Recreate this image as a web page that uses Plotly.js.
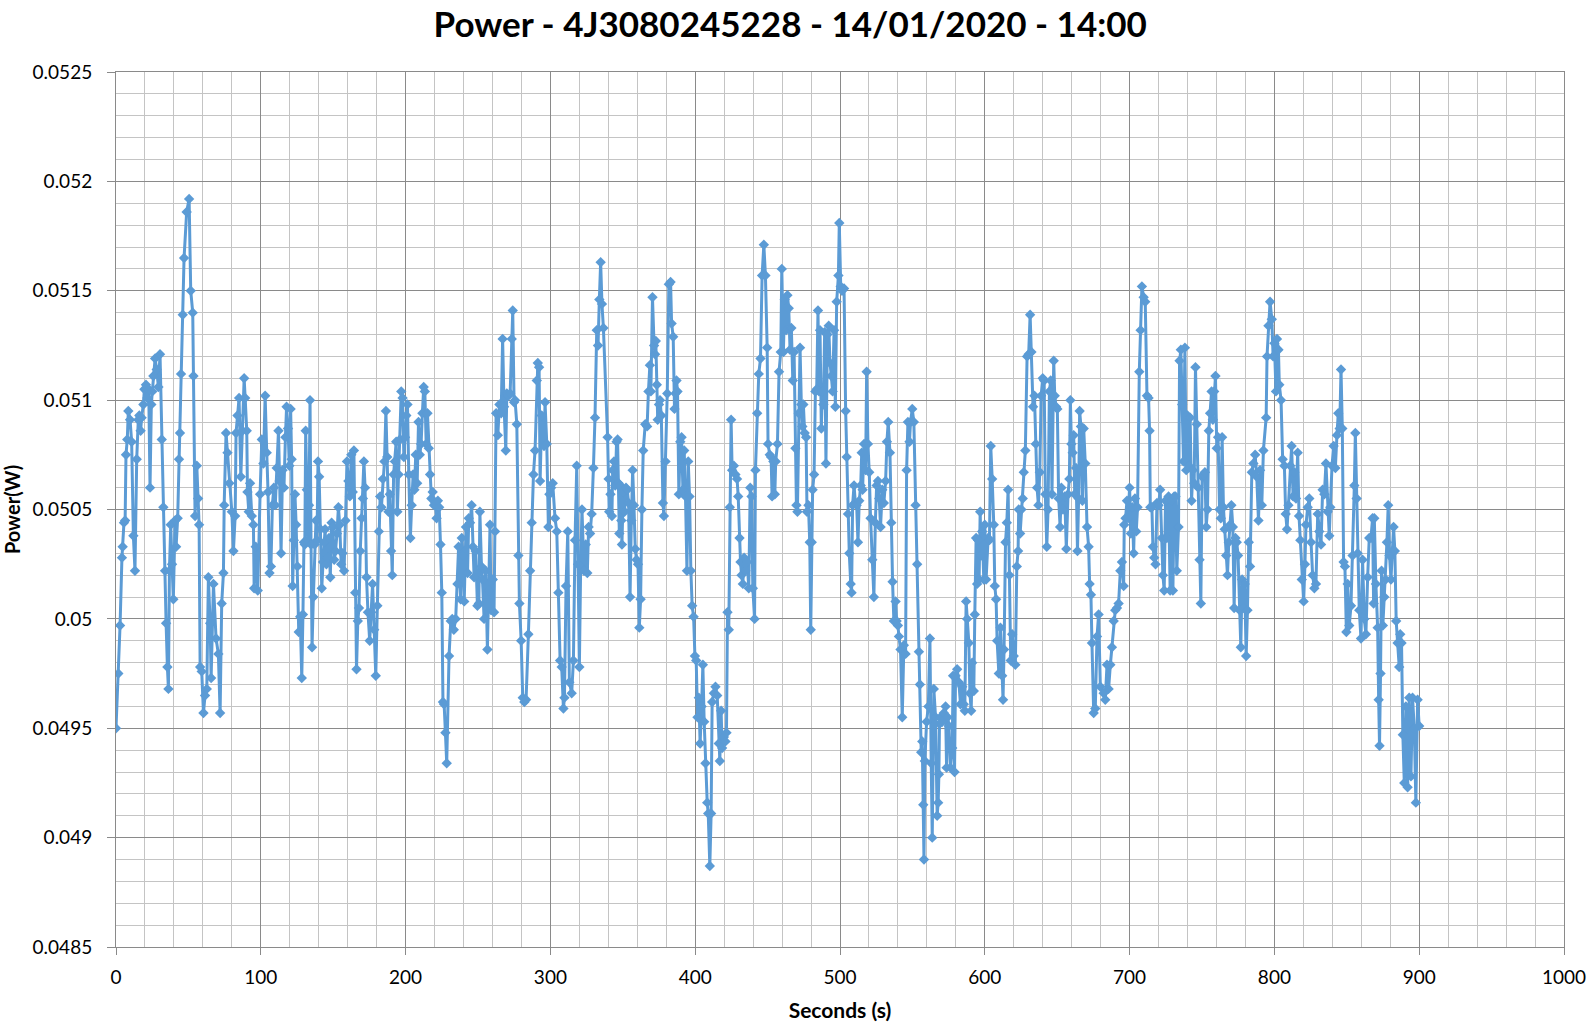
<!DOCTYPE html>
<html>
<head>
<meta charset="utf-8">
<script src="https://cdn.plot.ly/plotly-3.0.1.min.js"></script>
<style>html,body{margin:0;padding:0;background:#fff;}#chart{width:1590px;height:1026px;}</style>
</head>
<body>
<div id="chart"></div>
<script>
// [seconds, power (W)], in chunks
const samples0to105 = [
[0,0.04950],[1.6,0.04975],[2.8,0.04997],[4.1,0.05028],[4.6,0.05033],[5.5,0.05044],[6.3,0.05045],[6.9,0.05075],[7.8,0.05082],[8.5,0.05095],
[9.7,0.05091],[10.8,0.05081],[12,0.05038],[13.1,0.05022],[14.3,0.05073],[15.4,0.05091],[16.1,0.05093],[17,0.05086],[17.7,0.05092],[18.9,0.05098],
[19.6,0.05105],[20.7,0.05107],[21.7,0.05101],[22.6,0.05105],[23.5,0.05060],[24.4,0.05098],[25.1,0.05104],[25.8,0.05111],[27,0.05119],[28.1,0.05114],
[29.3,0.05106],[30.4,0.05121],[31.6,0.05082],[32.7,0.05051],[33.9,0.05022],[34.6,0.04998],[35.5,0.04978],[36.2,0.04968],[36.9,0.05022],[37.8,0.05043],
[38.7,0.05025],[39.6,0.05009],[40.8,0.05045],[41.5,0.05033],[42.6,0.05046],[43.5,0.05073],[44.2,0.05085],[44.9,0.05112],[46.1,0.05139],[47,0.05165],
[48.8,0.05186],[50.5,0.05192],[51.6,0.05150],[53,0.05140],[53.5,0.05111],[54.6,0.05047],[55.8,0.05070],[56.7,0.05055],[57.4,0.05043],[58.1,0.04978],
[59.2,0.04976],[60.4,0.04957],[61.5,0.04965],[62.7,0.04968],[63.8,0.05019],[65,0.04998],[65.7,0.04973],[67.3,0.05016],[69.1,0.04991],[70.7,0.04984],
[71.9,0.04957],[73,0.05007],[74.2,0.05021],[74.7,0.05052],[76,0.05085],[77,0.05076],[78.3,0.05062],[80,0.05049],[81.1,0.05031],[82.3,0.05047],
[82.9,0.05085],[83.9,0.05093],[85,0.05101],[86.2,0.05065],[87.3,0.05086],[88.5,0.05110],[89.2,0.05101],[90.3,0.05086],[90.8,0.05058],[91.7,0.05049],
[92.6,0.05062],[93.8,0.05047],[94.9,0.05043],[95.4,0.05014],[96.5,0.05033],[97.9,0.05013],[99.5,0.05057],[100.7,0.05082],[101.8,0.05071],[103,0.05102],
[104.1,0.05076]
];
const samples105to230 = [
[105,0.05058],[106,0.05021],[107,0.05024],[108,0.05052],[109,0.05060],[110,0.05052],[111,0.05069],[112.2,0.05086],[113,0.05063],[114,0.05030],
[115,0.05068],[116,0.05060],[117,0.05083],[117.8,0.05097],[118.8,0.05087],[119.7,0.05070],[120.6,0.05096],[121.3,0.05073],[122,0.05015],[122.8,0.05036],
[123.6,0.05057],[124.4,0.05043],[125.3,0.05024],[126.2,0.04994],[127.2,0.05001],[128.3,0.04973],[129.1,0.05002],[129.8,0.05035],[130.4,0.05034],[131,0.05086],
[131.8,0.05059],[132.6,0.05036],[133.3,0.05052],[134,0.05100],[134.7,0.05034],[135.4,0.04987],[136.3,0.05010],[137.2,0.05034],[138.1,0.05045],[138.8,0.05036],
[139.5,0.05072],[140.3,0.05065],[141.2,0.05041],[142.1,0.05014],[143,0.05026],[143.8,0.05035],[144.4,0.05041],[145.3,0.05025],[146.2,0.05028],[147.1,0.05037],
[148,0.05019],[148.9,0.05044],[149.8,0.05042],[150.7,0.05027],[151.6,0.05031],[152.6,0.05039],[153.6,0.05051],[154.5,0.05043],[155.5,0.05025],[156.5,0.05030],
[157.5,0.05022],[158.5,0.05045],[159.5,0.05072],[160.5,0.05063],[161.5,0.05056],[162.5,0.05075],[163.5,0.05058],[164.3,0.05077],[165.2,0.05012],[166.1,0.04977],
[167,0.04999],[167.8,0.05005],[168.7,0.05031],[169.6,0.05046],[170.5,0.05055],[171.2,0.05072],[172,0.05060],[173,0.05019],[174,0.05003],[175.2,0.04990],
[176.2,0.05003],[177.2,0.05016],[178.3,0.04995],[179.4,0.04974],[180.5,0.05006],[181.5,0.05040],[182.4,0.05056],[183.3,0.05051],[184.3,0.05064],[185.4,0.05072],
[186.4,0.05095],[187.3,0.05074],[188.2,0.05049],[189.1,0.05057],[190,0.05031],[190.8,0.05020],[191.7,0.05066],[192.6,0.05072],[193.5,0.05081],[194.3,0.05049],
[195.2,0.05066],[196.1,0.05082],[197,0.05104],[197.9,0.05101],[198.8,0.05074],[199.6,0.05083],[200.5,0.05093],[201.3,0.05098],[202.2,0.05066],[203.3,0.05037],
[204.2,0.05052],[205.2,0.05066],[206.1,0.05059],[207,0.05075],[208,0.05062],[208.9,0.05090],[209.8,0.05075],[210.7,0.05080],[211.6,0.05094],[212.5,0.05106],
[213.3,0.05104],[214.2,0.05080],[215.1,0.05094],[216,0.05078],[216.9,0.05066],[217.8,0.05055],[218.7,0.05058],[219.6,0.05052],[220.5,0.05053],[221.4,0.05046],
[222.3,0.05054],[223.2,0.05051],[224.1,0.05034],[225,0.05012],[225.8,0.04962],[226.6,0.04961],[227.5,0.04948],[228.4,0.04934]
];
const samples230to337 = [
[230,0.04983],[231.2,0.04999],[232.2,0.05000],[233.3,0.04995],[234.6,0.05000],[235.8,0.05016],[236.6,0.05033],[238,0.05009],[238.8,0.05037],[239.7,0.05029],
[240.5,0.05008],[241.7,0.05042],[242.8,0.05021],[243.6,0.05046],[244.5,0.05044],[245.6,0.05052],[246.5,0.05033],[247.3,0.05019],[248.4,0.05031],[249.6,0.05006],
[250.6,0.05007],[251.3,0.05049],[252.4,0.05024],[253.1,0.05018],[254.2,0.05000],[255.3,0.05022],[256.5,0.04986],[257.6,0.05013],[258.3,0.05043],[259,0.05004],
[260.2,0.05018],[261.1,0.05003],[261.8,0.05040],[262.5,0.05094],[263.7,0.05084],[264.8,0.05098],[266,0.05094],[267,0.05128],[268,0.05097],[269.2,0.05077],
[269.9,0.05103],[271,0.05102],[272.2,0.05103],[273.3,0.05128],[274,0.05141],[274.9,0.05099],[275.6,0.05100],[276.8,0.05089],[277.9,0.05029],[278.6,0.05007],
[279.8,0.04990],[280.9,0.04964],[282,0.04962],[283.2,0.04963],[284.8,0.04993],[286,0.05022],[287.1,0.05044],[288.3,0.05066],[289.4,0.05077],[290.6,0.05109],
[291.3,0.05117],[292.2,0.05115],[292.9,0.05063],[294,0.05093],[295.6,0.05079],[296.3,0.05099],[297.5,0.05080],[298.6,0.05042],[299.3,0.05057],[300.5,0.05060],
[301.6,0.05062],[303.2,0.05046],[304.4,0.05040],[305.5,0.05012],[306.7,0.04981],[307.8,0.04978],[309,0.04959],[309.7,0.04964],[310.8,0.05015],[312,0.05040],
[313.1,0.04971],[314.7,0.04966],[315.9,0.04981],[317,0.05036],[318.2,0.05070],[319.1,0.05025],[320,0.04978],[320.9,0.05024],[321.8,0.05050],[323.2,0.05022],
[324.4,0.05034],[325.5,0.05021],[326.4,0.05042],[327.4,0.05039],[328.5,0.05048],[329.7,0.05069],[330.8,0.05092],[332,0.05132],[332.9,0.05125],[333.8,0.05146],
[334.7,0.05163],[335.6,0.05144],[336.6,0.05133]
];
const samples337to454 = [
[339.5,0.05083],[340.2,0.05064],[340.6,0.05049],[341.5,0.05057],[342.5,0.05047],[343,0.05068],[343.9,0.05072],[344.8,0.05061],[345.7,0.05081],[346.4,0.05082],
[347.1,0.05062],[347.6,0.05039],[348.3,0.05061],[349,0.05045],[349.4,0.05034],[350.3,0.05058],[351.2,0.05049],[352.2,0.05060],[353.1,0.05059],[354,0.05053],
[355,0.05010],[355.9,0.05045],[356.8,0.05068],[357.7,0.05052],[358.6,0.05032],[359.5,0.05027],[360.5,0.05025],[361.4,0.04996],[362.3,0.05009],[363.2,0.05050],
[364.1,0.05077],[365.5,0.05089],[366.8,0.05088],[367.7,0.05104],[368.7,0.05116],[369.4,0.05104],[370.5,0.05147],[371.6,0.05125],[372.3,0.05121],[372.8,0.05127],
[373.5,0.05107],[374.1,0.05091],[375,0.05098],[375.7,0.05100],[376.6,0.05093],[377.7,0.05053],[378.4,0.05047],[379.5,0.05072],[380.7,0.05103],[381.8,0.05153],
[383,0.05154],[383.7,0.05135],[384.8,0.05129],[385.7,0.05096],[386.4,0.05103],[387.1,0.05109],[387.8,0.05104],[388.7,0.05057],[389.7,0.05081],[390.6,0.05083],
[391.5,0.05059],[392.4,0.05077],[393.3,0.05056],[394.3,0.05022],[395.2,0.05072],[396.1,0.05056],[397,0.05022],[397.9,0.05006],[398.9,0.05001],[399.8,0.04983],
[400.7,0.04981],[401.6,0.04955],[402.5,0.04964],[403.4,0.04943],[404.4,0.04960],[405.3,0.04979],[406.2,0.04953],[407.1,0.04934],[408.3,0.04916],[409,0.04911],
[410.1,0.04887],[411,0.04911],[411.7,0.04962],[412.9,0.04966],[414,0.04969],[415.2,0.04965],[416.3,0.04943],[417,0.04935],[417.9,0.04958],[418.6,0.04941],
[419.8,0.04946],[420.9,0.04944],[421.6,0.04948],[422.3,0.05003],[423.2,0.04995],[423.9,0.05051],[424.8,0.05091],[425.5,0.05068],[426.7,0.05070],[427.8,0.05066],
[428.9,0.05064],[429.7,0.05056],[430.6,0.05037],[431.3,0.05026],[432,0.05020],[432.9,0.05016],[433.8,0.05028],[434.7,0.05022],[435.9,0.05026],[437,0.05014],
[438,0.05060],[438.9,0.05056],[439.8,0.05014],[441,0.05000],[441.6,0.05068],[442.8,0.05094],[443.9,0.05112],[445.1,0.05119],[446.2,0.05157],[447.4,0.05171],
[448.5,0.05157],[449.7,0.05124],[450.3,0.05080],[451.5,0.05075],[452.4,0.05074],[453.1,0.05056]
];
const samples454to567 = [
[454,0.05072],[455,0.05057],[455.6,0.05072],[456.8,0.05080],[457.9,0.05113],[459.1,0.05122],[459.8,0.05160],[460.9,0.05122],[461.8,0.05146],[462.8,0.05132],
[463.7,0.05148],[464.6,0.05142],[465.5,0.05123],[466.4,0.05133],[467.4,0.05109],[468.3,0.05122],[469.2,0.05078],[469.9,0.05052],[470.6,0.05049],[471.5,0.05094],
[472.4,0.05124],[473.3,0.05098],[474,0.05088],[474.7,0.05098],[475.6,0.05085],[476.6,0.05083],[477.2,0.05049],[478.2,0.05052],[479.1,0.05035],[479.8,0.04995],
[480.5,0.05035],[481.1,0.05059],[482.1,0.05066],[483,0.05104],[483.9,0.05105],[484.8,0.05141],[485.5,0.05104],[486.2,0.05132],[487.1,0.05087],[487.8,0.05104],
[488.5,0.05098],[489.4,0.05131],[490.3,0.05071],[491.3,0.05130],[492.2,0.05134],[493.1,0.05117],[494,0.05111],[494.9,0.05104],[495.9,0.05132],[496.8,0.05097],
[497.7,0.05145],[498.9,0.05157],[499.5,0.05181],[500.5,0.05152],[501.4,0.05150],[502.8,0.05151],[503.9,0.05095],[504.6,0.05074],[505.5,0.05048],[506.4,0.05030],
[507.4,0.05016],[508,0.05012],[508.7,0.05052],[509.7,0.05061],[510.6,0.05053],[511.5,0.05052],[512.4,0.05035],[513.3,0.05054],[514.3,0.05061],[515,0.05076],
[515.6,0.05059],[516.6,0.05080],[517.7,0.05068],[518.4,0.05113],[519.3,0.05080],[520.2,0.05067],[521.1,0.05046],[522.3,0.05027],[523.4,0.05010],[524.4,0.05044],
[525.3,0.05061],[526.2,0.05063],[527.1,0.05055],[528,0.05042],[529.2,0.05059],[530.3,0.05053],[531.5,0.05063],[532.4,0.05081],[533.3,0.05090],[534.5,0.05076],
[535.4,0.05044],[536.3,0.05017],[537.2,0.04999],[538.4,0.05008],[539.1,0.04999],[540,0.04997],[540.7,0.04992],[541.8,0.04986],[543,0.04955],[544.1,0.04988],
[545.3,0.04984],[546,0.05068],[546.9,0.05090],[548,0.05081],[548.7,0.05090],[549.9,0.05096],[551,0.05090],[552.2,0.05052],[553.3,0.05025],[554.5,0.04985],
[555.2,0.04970],[556.1,0.04939],[556.8,0.04944],[557.5,0.04915],[558,0.04890],[558.6,0.04935],[559.8,0.04953],[561,0.04960],[562.1,0.04991],[563,0.04934],
[563.7,0.04900],[564.8,0.04968],[566,0.04955]
];
const samples567to681 = [
[567.1,0.04910],[567.8,0.04916],[568.3,0.04929],[568.7,0.04952],[569.4,0.04955],[570.6,0.04953],[571.7,0.04957],[572.9,0.04960],[573.6,0.04932],[574.3,0.04955],
[575.2,0.04951],[576.3,0.04932],[577.5,0.04941],[578.1,0.04974],[579.1,0.04930],[579.8,0.04974],[580.9,0.04977],[582.1,0.04971],[583.2,0.04961],[584.4,0.04969],
[585.5,0.04961],[586.2,0.04958],[587.1,0.05008],[587.8,0.05000],[589,0.04989],[589.7,0.04966],[590.6,0.04958],[591.3,0.04980],[592.4,0.04967],[593.1,0.05002],
[594,0.05037],[594.7,0.05016],[595.4,0.05036],[596.1,0.05018],[596.8,0.05049],[597.5,0.05029],[598.2,0.05040],[599.3,0.05018],[600,0.05043],[600.9,0.05018],
[602.3,0.05037],[603.2,0.05036],[604.1,0.05079],[605.1,0.05064],[606.2,0.05043],[606.9,0.05015],[607.8,0.05009],[608.5,0.04990],[609.7,0.04975],[610.8,0.04996],
[612,0.04974],[612.6,0.04963],[613.3,0.04986],[614.3,0.05035],[615.2,0.05044],[616.1,0.05059],[617,0.05020],[617.9,0.04981],[618.9,0.04993],[620,0.04983],
[621.1,0.04979],[622.1,0.05024],[623,0.05031],[623.4,0.05050],[624.4,0.05039],[625.3,0.05050],[626.2,0.05055],[626.9,0.05067],[628,0.05077],[629.2,0.05120],
[630.3,0.05121],[631.3,0.05139],[632.2,0.05122],[633.3,0.05097],[634.3,0.05102],[635.2,0.05080],[636.1,0.05060],[637,0.05052],[638,0.05067],[638.9,0.05102],
[640,0.05110],[641,0.05109],[641.8,0.05057],[642.8,0.05033],[643.7,0.05050],[644.6,0.05104],[645.5,0.05109],[646.4,0.05057],[647.6,0.05118],[648.3,0.05102],
[649.2,0.05097],[650.1,0.05096],[651,0.05055],[652,0.05042],[652.9,0.05060],[654,0.05050],[655.2,0.05056],[656.3,0.05032],[657.5,0.05057],[658.4,0.05064],
[659.1,0.05100],[659.8,0.05080],[660.7,0.05076],[661.4,0.05084],[662.1,0.05057],[663,0.05069],[664,0.05031],[664.8,0.05055],[665.5,0.05095],[666.4,0.05088],
[667.4,0.05054],[668.3,0.05087],[669.4,0.05071],[670.6,0.05042],[671.7,0.05033],[672.4,0.05016],[673.3,0.05011],[674,0.04989],[675.2,0.04957],[676.3,0.04959],
[677.5,0.04992],[678.6,0.05002],[679.8,0.04969]
];
const samples681to793 = [
[682.1,0.04966],[683.2,0.04963],[684.4,0.04979],[685.5,0.04968],[686.7,0.04979],[687.8,0.04987],[689,0.04999],[690.1,0.05004],[691.3,0.05005],[692.4,0.05007],
[693.6,0.05022],[694.7,0.05026],[695.9,0.05015],[696.3,0.05043],[697.2,0.05046],[698.2,0.05054],[698.9,0.05046],[700,0.05060],[700.9,0.05039],[701.8,0.05051],
[702.8,0.05030],[703.7,0.05055],[704.6,0.05040],[705.5,0.05051],[706.7,0.05113],[707.6,0.05132],[708.5,0.05152],[709.7,0.05147],[710.8,0.05145],[712,0.05102],
[713.1,0.05101],[713.8,0.05086],[714.3,0.05051],[715.4,0.05051],[716.1,0.05033],[717,0.05028],[717.9,0.05025],[718.9,0.05053],[720,0.05052],[721.1,0.05059],
[722.3,0.05037],[723,0.05020],[723.9,0.05013],[724.8,0.05054],[725.7,0.05037],[726.9,0.05056],[728,0.05013],[728.7,0.05054],[729.9,0.05013],[730.8,0.05056],
[731.7,0.05056],[732.6,0.05022],[733.8,0.05042],[734.5,0.05118],[735.4,0.05123],[736.3,0.05098],[737.2,0.05072],[738.2,0.05124],[739.1,0.05068],[740,0.05093],
[740.9,0.05070],[741.8,0.05092],[742.8,0.05054],[743.7,0.05068],[744.6,0.05062],[745.5,0.05115],[746.4,0.05089],[747.4,0.05060],[748.3,0.05027],[749.2,0.05007],
[750.1,0.05065],[751,0.05066],[752,0.05067],[752.9,0.05042],[753.8,0.05050],[754.7,0.05086],[755.6,0.05094],[756.6,0.05104],[757.5,0.05091],[758.4,0.05104],
[759.3,0.05111],[760.2,0.05078],[761.1,0.05083],[762.1,0.05050],[763,0.05046],[763.9,0.05083],[764.8,0.05051],[765.7,0.05041],[766.7,0.05029],[767.6,0.05020],
[768.5,0.05035],[769.4,0.05043],[770.3,0.05052],[771.3,0.05042],[772.2,0.05005],[773.1,0.05037],[774,0.05035],[774.9,0.05029],[775.9,0.05004],[776.8,0.04987],
[777.7,0.05018],[778.6,0.05005],[779.5,0.05016],[780.5,0.04983],[781.4,0.05004],[782.3,0.05035],[783.2,0.05024],[784.4,0.05067],[785.5,0.05071],[786.7,0.05075],
[787.8,0.05065],[789,0.05045],[790.1,0.05068],[791.3,0.05052],[792.4,0.05077]
];
const samples793to900 = [
[794.3,0.05092],[794.9,0.05120],[795.9,0.05134],[797,0.05145],[798.2,0.05137],[799.1,0.05120],[800,0.05126],[801.1,0.05104],[801.8,0.05128],[802.8,0.05123],
[803.4,0.05107],[804.6,0.05100],[805.7,0.05073],[806.9,0.05070],[807.8,0.05048],[808.7,0.05041],[809.7,0.05052],[811,0.05070],[811.9,0.05079],[812.9,0.05056],
[813.8,0.05067],[814.9,0.05055],[816.1,0.05076],[817,0.05047],[817.9,0.05036],[818.9,0.05018],[820.2,0.05008],[821.1,0.05025],[821.8,0.05043],[823,0.05051],
[824.1,0.05055],[825.3,0.05035],[826.4,0.05020],[827.6,0.05014],[828.7,0.05016],[829.9,0.05048],[831,0.05040],[832.2,0.05034],[833.3,0.05059],[834.5,0.05057],
[835.6,0.05071],[836.8,0.05049],[837.9,0.05038],[838.6,0.05051],[839.8,0.05070],[840.9,0.05079],[842.1,0.05069],[843.2,0.05084],[844.1,0.05094],[845.1,0.05087],
[846,0.05114],[846.9,0.05087],[847.8,0.05026],[848.7,0.05024],[849.7,0.04994],[850.6,0.05016],[851.7,0.04997],[852.9,0.05006],[854,0.05029],[855.2,0.05061],
[855.9,0.05085],[856.8,0.05055],[857.5,0.05030],[858.6,0.05004],[859.8,0.04991],[860.9,0.05027],[862.1,0.05000],[863.2,0.04993],[864.4,0.05019],[865.5,0.05037],
[866.7,0.05037],[867.8,0.05046],[868.5,0.05007],[869,0.05046],[870.1,0.05016],[871.3,0.04996],[872,0.04963],[872.6,0.04942],[873.3,0.04975],[874,0.05022],
[874.9,0.04997],[875.9,0.05010],[876.8,0.05018],[877.7,0.05035],[878.6,0.05052],[879.5,0.05029],[880.5,0.05018],[881.4,0.05031],[882.3,0.05042],[883.2,0.05031],
[884.1,0.04999],[885.1,0.04989],[886.2,0.04978],[886.9,0.04993],[887.8,0.04989],[888.7,0.04947],[889.7,0.04925],[890.8,0.04960],[892,0.04923],[893.1,0.04964],
[894.3,0.04928],[895.4,0.04964],[896.6,0.04950],[897.7,0.04916],[898.9,0.04963],[900,0.04951]
];

const yTickVals = [0.0485,0.049,0.0495,0.05,0.0505,0.051,0.0515,0.052,0.0525];
const yTickText = ['0.0485','0.049','0.0495','0.05','0.0505','0.051','0.0515','0.052','0.0525'];
const xTickVals = [0,100,200,300,400,500,600,700,800,900,1000];
const xTickText = ['0','100','200','300','400','500','600','700','800','900','1000'];

const chartTitle = 'Power - 4J3080245228 - 14/01/2020 - 14:00';
const xTitle = 'Seconds (s)';
const yTitle = 'Power(W)';

const all = [].concat(samples0to105, samples105to230, samples230to337, samples337to454,
                      samples454to567, samples567to681, samples681to793, samples793to900);
const seconds = all.map(p => p[0]);
const power = all.map(p => p[1]);

const blue = '#5B9BD5';
const trace = {
  type: 'scatter', mode: 'lines+markers',
  x: seconds, y: power,
  line: {color: blue, width: 3},
  marker: {symbol: 'diamond', size: 8, color: blue, line: {width: 0}},
  hoverinfo: 'x+y'
};

const majorGrid = '#8a8a8a';
const minorGrid = '#c4c4c4';
const layout = {
  width: 1590, height: 1026,
  margin: {l: 116, r: 26, t: 72, b: 79, pad: 0},
  paper_bgcolor: '#ffffff', plot_bgcolor: '#ffffff',
  showlegend: false,
  font: {family: 'Lato, "Open Sans", sans-serif', color: '#000000', size: 19},
  title: {
    text: chartTitle,
    font: {family: 'Lato, "Open Sans", sans-serif', size: 35, weight: 700, color: '#000000'},
    x: 0.497, xanchor: 'center', xref: 'container',
    y: 0.976, yanchor: 'middle', yref: 'container'
  },
  xaxis: {
    range: [0, 1000], autorange: false,
    tickvals: xTickVals, ticktext: xTickText,
    ticks: 'outside', ticklen: 7, tickwidth: 1, tickcolor: majorGrid,
    tickfont: {size: 19, color: '#000000'},
    ticklabelstandoff: 6,
    showgrid: true, gridcolor: majorGrid, gridwidth: 1,
    minor: {dtick: 20, tick0: 0, showgrid: true, gridcolor: minorGrid, gridwidth: 1, ticks: ''},
    showline: true, linecolor: majorGrid, linewidth: 1, mirror: true,
    zeroline: false, automargin: false,
    title: {text: xTitle, font: {size: 21, weight: 700, color: '#000000'}, standoff: 16}
  },
  yaxis: {
    range: [0.0485, 0.0525], autorange: false,
    tickvals: yTickVals, ticktext: yTickText,
    ticks: 'outside', ticklen: 8, tickwidth: 1, tickcolor: majorGrid,
    tickfont: {size: 19, color: '#000000'},
    ticklabelstandoff: 11,
    showgrid: true, gridcolor: majorGrid, gridwidth: 1,
    minor: {dtick: 0.0001, tick0: 0.0485, showgrid: true, gridcolor: minorGrid, gridwidth: 1, ticks: ''},
    showline: true, linecolor: majorGrid, linewidth: 1, mirror: true,
    zeroline: false, automargin: false,
    title: {text: yTitle, font: {size: 20, weight: 700, color: '#000000'}, standoff: 14}
  }
};

Plotly.newPlot('chart', [trace], layout, {displayModeBar: false, responsive: false, staticPlot: true});
</script>
</body>
</html>
